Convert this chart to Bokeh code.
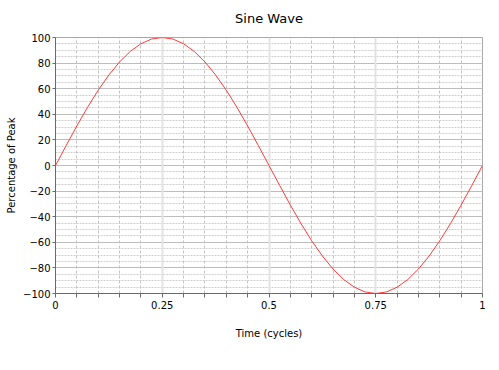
from bokeh.plotting import figure
from bokeh.models import Range1d, FixedTicker, Grid
from bokeh.embed import file_html
from bokeh.resources import INLINE

# Data (time in cycles, percentage of peak)
time_cycles = [0.0, 0.025, 0.05, 0.075, 0.1, 0.125, 0.15, 0.175, 0.2, 0.225,
               0.25, 0.275, 0.3, 0.325, 0.35, 0.375, 0.4, 0.425, 0.45, 0.475,
               0.5, 0.525, 0.55, 0.575, 0.6, 0.625, 0.65, 0.675, 0.7, 0.725,
               0.75, 0.775, 0.8, 0.825, 0.85, 0.875, 0.9, 0.925, 0.95, 0.975, 1.0]
percent_peak = [0.0, 15.6, 30.9, 45.4, 58.8, 70.7, 80.9, 89.1, 95.1, 98.8,
                100.0, 98.8, 95.1, 89.1, 80.9, 70.7, 58.8, 45.4, 30.9, 15.6,
                0.0, -15.6, -30.9, -45.4, -58.8, -70.7, -80.9, -89.1, -95.1, -98.8,
                -100.0, -98.8, -95.1, -89.1, -80.9, -70.7, -58.8, -45.4, -30.9, -15.6, 0.0]

x_major = [0, 0.25, 0.5, 0.75, 1]
x_labels = {0: "0", 0.25: "0.25", 0.5: "0.5", 0.75: "0.75", 1: "1"}
x_minor = [0.05, 0.1, 0.15, 0.2, 0.3, 0.35, 0.4, 0.45, 0.55, 0.6, 0.65, 0.7, 0.8, 0.85, 0.9, 0.95]
y_major = [-100, -80, -60, -40, -20, 0, 20, 40, 60, 80, 100]
y_minor = [-95, -90, -85, -75, -70, -65, -55, -50, -45, -35, -30, -25, -15, -10, -5,
           5, 10, 15, 25, 30, 35, 45, 50, 55, 65, 70, 75, 85, 90, 95]
chart_title = "Sine Wave"

FONT = "DejaVu Sans"

p = figure(width=499, height=370, output_backend="svg", toolbar_location=None,
           x_range=Range1d(0, 1), y_range=Range1d(-100, 100),
           min_border_left=55, min_border_right=17, min_border_top=37, min_border_bottom=77)

p.title.text = chart_title
p.title.align = "center"
p.title.vertical_align = "top"
p.title.text_font = FONT
p.title.text_font_size = "13px"
p.title.text_font_style = "normal"
p.title.text_color = "#000000"
p.title.offset = 0
p.title.standoff = 20

p.xgrid.visible = False
p.ygrid.visible = False

p.add_layout(Grid(dimension=1, ticker=FixedTicker(ticks=y_minor),
                  grid_line_color="#cfcfcf", grid_line_dash="2 1", grid_line_width=1))
p.add_layout(Grid(dimension=0, ticker=FixedTicker(ticks=x_minor),
                  grid_line_color="#c4c4c4", grid_line_dash="3 2", grid_line_width=1))
p.add_layout(Grid(dimension=1, ticker=FixedTicker(ticks=y_major),
                  grid_line_color="#bdbdbd", grid_line_width=1))
p.add_layout(Grid(dimension=0, ticker=FixedTicker(ticks=x_major),
                  grid_line_color="#e2e2e2", grid_line_width=2))

p.line(time_cycles, percent_peak, line_color="#ff3b3b", line_width=1)

p.xaxis.ticker = FixedTicker(ticks=x_major, minor_ticks=x_minor)
p.xaxis.major_label_overrides = x_labels
p.xaxis.axis_label = "Time (cycles)"
p.yaxis.ticker = FixedTicker(ticks=y_major, minor_ticks=[])
p.yaxis.axis_label = "Percentage of Peak"

for ax in (p.xaxis[0], p.yaxis[0]):
    ax.axis_line_color = "#6a6a6a"
    ax.major_tick_line_color = "#6a6a6a"
    ax.minor_tick_line_color = "#6a6a6a"
    ax.major_label_text_font = FONT
    ax.major_label_text_font_size = "10px"
    ax.major_label_text_color = "#000000"
    ax.axis_label_text_font = FONT
    ax.axis_label_text_font_size = "10px"
    ax.axis_label_text_font_style = "normal"
    ax.axis_label_text_color = "#000000"

p.xaxis.major_tick_in = 0
p.xaxis.major_tick_out = 4
p.xaxis.minor_tick_in = 0
p.xaxis.minor_tick_out = 4
p.xaxis.major_label_standoff = 3
p.xaxis.axis_label_standoff = 16
p.yaxis.major_tick_in = 0
p.yaxis.major_tick_out = 3
p.yaxis.minor_tick_in = 0
p.yaxis.minor_tick_out = 0
p.yaxis.major_label_standoff = 2
p.yaxis.axis_label_standoff = 3

p.outline_line_color = "#a8a8a8"
p.outline_line_width = 1
p.background_fill_color = "white"
p.border_fill_color = "white"

open("out.html", "w").write(file_html(p, INLINE))
